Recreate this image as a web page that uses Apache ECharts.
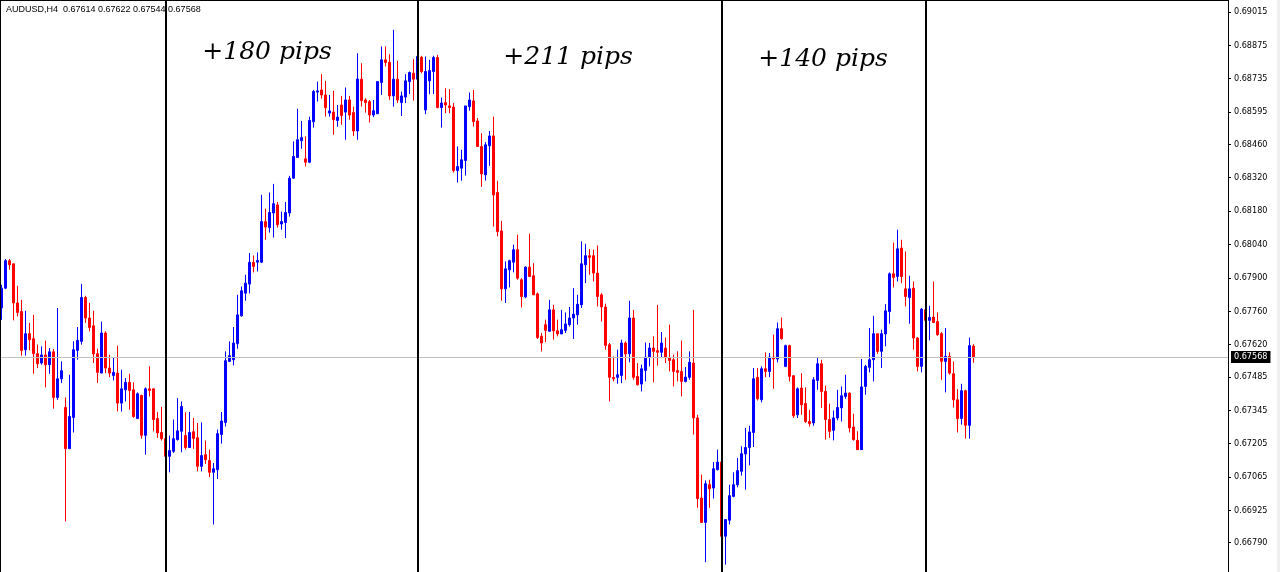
<!DOCTYPE html>
<html>
<head>
<meta charset="utf-8">
<script src="https://cdn.jsdelivr.net/npm/echarts@6/dist/echarts.min.js"></script>
<style>
html, body { margin: 0; padding: 0; background: #ffffff; }
#chart { width: 1280px; height: 572px; }
</style>
</head>
<body>
<div id="chart"></div>
<script>
const symbol = 'AUDUSD,H4';

// Each bar: [open, close, low, high]
const barsBeforeFirstMove = [
  [0.67774, 0.67857, 0.67724, 0.67871], [0.67857, 0.67972, 0.67853, 0.67979], [0.67972, 0.67955, 0.67934, 0.67979],
  [0.67959, 0.67795, 0.67722, 0.67959], [0.67795, 0.67755, 0.67738, 0.67867], [0.67759, 0.67596, 0.67574, 0.67808],
  [0.67599, 0.67666, 0.67574, 0.67762], [0.67666, 0.67641, 0.67596, 0.67711], [0.67645, 0.67582, 0.67498, 0.67745],
  [0.67582, 0.67540, 0.67522, 0.67620], [0.67543, 0.67577, 0.67536, 0.67613], [0.67577, 0.67536, 0.67441, 0.67637],
  [0.67536, 0.67590, 0.67498, 0.67606], [0.67590, 0.67399, 0.67352, 0.67602], [0.67399, 0.67477, 0.67389, 0.67774],
  [0.67477, 0.67511, 0.67459, 0.67550], [0.67357, 0.67184, 0.66879, 0.67399], [0.67184, 0.67319, 0.67184, 0.67494],
  [0.67315, 0.67599, 0.67252, 0.67634], [0.67596, 0.67638, 0.67557, 0.67694], [0.67634, 0.67818, 0.67620, 0.67875],
  [0.67818, 0.67732, 0.67711, 0.67825], [0.67732, 0.67692, 0.67676, 0.67795], [0.67699, 0.67581, 0.67543, 0.67762],
  [0.67582, 0.67504, 0.67459, 0.67603], [0.67501, 0.67669, 0.67501, 0.67717], [0.67669, 0.67522, 0.67501, 0.67676],
  [0.67522, 0.67501, 0.67484, 0.67578], [0.67491, 0.67504, 0.67470, 0.67567], [0.67501, 0.67375, 0.67340, 0.67616],
  [0.67375, 0.67435, 0.67340, 0.67515], [0.67431, 0.67462, 0.67382, 0.67480], [0.67462, 0.67428, 0.67347, 0.67498],
  [0.67431, 0.67319, 0.67313, 0.67462], [0.67310, 0.67414, 0.67310, 0.67420], [0.67407, 0.67240, 0.67226, 0.67410],
  [0.67240, 0.67435, 0.67159, 0.67441], [0.67435, 0.67428, 0.67403, 0.67529], [0.67435, 0.67306, 0.67257, 0.67435],
  [0.67310, 0.67250, 0.67229, 0.67338], [0.67252, 0.67226, 0.67218, 0.67359]
];

const firstMoveBars = [
  [0.67226, 0.67152, 0.67145, 0.67236], [0.67152, 0.67176, 0.67085, 0.67239], [0.67173, 0.67226, 0.67166, 0.67306],
  [0.67222, 0.67259, 0.67218, 0.67396], [0.67257, 0.67361, 0.67169, 0.67382], [0.67239, 0.67189, 0.67180, 0.67336],
  [0.67189, 0.67252, 0.67189, 0.67338], [0.67255, 0.67227, 0.67183, 0.67313], [0.67230, 0.67110, 0.67089, 0.67292],
  [0.67110, 0.67155, 0.67089, 0.67294], [0.67159, 0.67138, 0.67120, 0.67218], [0.67134, 0.67085, 0.67065, 0.67180],
  [0.67085, 0.67100, 0.66866, 0.67124], [0.67096, 0.67247, 0.67057, 0.67264], [0.67243, 0.67300, 0.67205, 0.67338],
  [0.67294, 0.67553, 0.67277, 0.67592], [0.67550, 0.67574, 0.67550, 0.67634], [0.67557, 0.67627, 0.67533, 0.67694],
  [0.67624, 0.67745, 0.67603, 0.67829], [0.67741, 0.67846, 0.67738, 0.67864], [0.67836, 0.67878, 0.67804, 0.67913],
  [0.67874, 0.67965, 0.67835, 0.68004], [0.67965, 0.67948, 0.67923, 0.67994], [0.67966, 0.67973, 0.67927, 0.68007],
  [0.67966, 0.68136, 0.67962, 0.68248], [0.68136, 0.68113, 0.68060, 0.68190], [0.68111, 0.68174, 0.68090, 0.68258],
  [0.68172, 0.68211, 0.68069, 0.68294], [0.68206, 0.68123, 0.68111, 0.68218], [0.68126, 0.68136, 0.68102, 0.68178],
  [0.68132, 0.68174, 0.68067, 0.68218], [0.68172, 0.68318, 0.68157, 0.68328], [0.68318, 0.68409, 0.68315, 0.68472],
  [0.68405, 0.68479, 0.68405, 0.68609], [0.68475, 0.68488, 0.68441, 0.68558], [0.68399, 0.68385, 0.68367, 0.68493],
  [0.68385, 0.68560, 0.68381, 0.68576], [0.68555, 0.68681, 0.68530, 0.68688], [0.68679, 0.68684, 0.68639, 0.68723],
  [0.68688, 0.68667, 0.68651, 0.68754], [0.68667, 0.68614, 0.68576, 0.68726], [0.68591, 0.68600, 0.68576, 0.68667],
  [0.68595, 0.68563, 0.68500, 0.68684], [0.68560, 0.68574, 0.68534, 0.68625], [0.68625, 0.68581, 0.68542, 0.68663],
  [0.68595, 0.68646, 0.68479, 0.68698], [0.68646, 0.68583, 0.68563, 0.68663], [0.68593, 0.68516, 0.68495, 0.68618],
  [0.68516, 0.68734, 0.68479, 0.68842], [0.68733, 0.68643, 0.68618, 0.68800], [0.68646, 0.68635, 0.68593, 0.68653],
  [0.68639, 0.68583, 0.68551, 0.68646], [0.68583, 0.68601, 0.68574, 0.68646], [0.68588, 0.68723, 0.68588, 0.68723],
  [0.68719, 0.68814, 0.68667, 0.68870], [0.68814, 0.68803, 0.68786, 0.68870], [0.68804, 0.68663, 0.68646, 0.68838],
  [0.68663, 0.68733, 0.68618, 0.68940], [0.68733, 0.68646, 0.68633, 0.68810], [0.68635, 0.68663, 0.68579, 0.68681],
  [0.68658, 0.68726, 0.68633, 0.68754], [0.68723, 0.68761, 0.68671, 0.68765], [0.68758, 0.68733, 0.68643, 0.68817]
];

const secondMoveBars = [
  [0.68733, 0.68828, 0.68730, 0.68856], [0.68825, 0.68765, 0.68758, 0.68831], [0.68604, 0.68765, 0.68586, 0.68828],
  [0.68726, 0.68769, 0.68670, 0.68814], [0.68765, 0.68824, 0.68671, 0.68831], [0.68824, 0.68614, 0.68611, 0.68835],
  [0.68614, 0.68633, 0.68530, 0.68656], [0.68635, 0.68625, 0.68591, 0.68695], [0.68621, 0.68614, 0.68591, 0.68692],
  [0.68616, 0.68350, 0.68342, 0.68633], [0.68350, 0.68367, 0.68300, 0.68451], [0.68360, 0.68395, 0.68307, 0.68437],
  [0.68392, 0.68621, 0.68329, 0.68621], [0.68618, 0.68646, 0.68601, 0.68677], [0.68642, 0.68555, 0.68534, 0.68688],
  [0.68558, 0.68451, 0.68451, 0.68570], [0.68451, 0.68336, 0.68281, 0.68507], [0.68332, 0.68458, 0.68308, 0.68469],
  [0.68454, 0.68495, 0.68370, 0.68516], [0.68495, 0.68248, 0.68115, 0.68576], [0.68258, 0.68094, 0.68074, 0.68307],
  [0.68097, 0.67854, 0.67804, 0.68139], [0.67854, 0.67938, 0.67795, 0.67969], [0.67934, 0.67972, 0.67860, 0.67976],
  [0.67966, 0.68018, 0.67923, 0.68039], [0.68018, 0.67899, 0.67892, 0.68081], [0.67892, 0.67822, 0.67776, 0.67899],
  [0.67820, 0.67945, 0.67815, 0.67948], [0.67945, 0.67906, 0.67906, 0.68085], [0.67909, 0.67829, 0.67829, 0.67962],
  [0.67833, 0.67650, 0.67644, 0.67839], [0.67655, 0.67627, 0.67592, 0.67669], [0.67704, 0.67680, 0.67631, 0.67725],
  [0.67676, 0.67766, 0.67676, 0.67808], [0.67766, 0.67678, 0.67641, 0.67787], [0.67678, 0.67665, 0.67655, 0.67725],
  [0.67665, 0.67683, 0.67665, 0.67766], [0.67680, 0.67707, 0.67669, 0.67755], [0.67704, 0.67732, 0.67696, 0.67778],
  [0.67732, 0.67748, 0.67644, 0.67857], [0.67745, 0.67790, 0.67704, 0.67829], [0.67787, 0.67959, 0.67774, 0.68053],
  [0.67955, 0.67993, 0.67878, 0.68043], [0.67993, 0.67986, 0.67913, 0.68021], [0.67993, 0.67920, 0.67885, 0.68018],
  [0.67920, 0.67822, 0.67780, 0.68036], [0.67829, 0.67778, 0.67717, 0.67836], [0.67778, 0.67617, 0.67599, 0.67792],
  [0.67620, 0.67483, 0.67382, 0.67627], [0.67483, 0.67477, 0.67466, 0.67571], [0.67483, 0.67494, 0.67456, 0.67599],
  [0.67491, 0.67627, 0.67459, 0.67641], [0.67627, 0.67581, 0.67473, 0.67634], [0.67582, 0.67732, 0.67546, 0.67804],
  [0.67732, 0.67483, 0.67473, 0.67766], [0.67487, 0.67452, 0.67449, 0.67543], [0.67455, 0.67519, 0.67424, 0.67536],
  [0.67512, 0.67568, 0.67466, 0.67629], [0.67567, 0.67606, 0.67529, 0.67627], [0.67606, 0.67592, 0.67462, 0.67655],
  [0.67595, 0.67588, 0.67532, 0.67787], [0.67588, 0.67627, 0.67567, 0.67673], [0.67606, 0.67567, 0.67543, 0.67650],
  [0.67567, 0.67554, 0.67508, 0.67704], [0.67557, 0.67508, 0.67445, 0.67578], [0.67511, 0.67504, 0.67466, 0.67592],
  [0.67508, 0.67466, 0.67403, 0.67637], [0.67466, 0.67484, 0.67462, 0.67526], [0.67483, 0.67546, 0.67473, 0.67592],
  [0.67543, 0.67313, 0.67243, 0.67766], [0.67313, 0.66975, 0.66936, 0.67326], [0.66977, 0.66875, 0.66873, 0.67075],
  [0.66875, 0.67037, 0.66708, 0.67051], [0.67033, 0.67016, 0.66936, 0.67054], [0.67019, 0.67100, 0.66975, 0.67128],
  [0.67096, 0.67128, 0.67093, 0.67180]
];

const thirdMoveBars = [
  [0.67128, 0.66817, 0.66810, 0.67131], [0.66817, 0.66887, 0.66698, 0.66889], [0.66884, 0.66987, 0.66866, 0.67033],
  [0.66984, 0.67033, 0.66980, 0.67085], [0.67033, 0.67092, 0.67022, 0.67145], [0.67089, 0.67163, 0.67071, 0.67194],
  [0.67162, 0.67189, 0.67012, 0.67271], [0.67189, 0.67254, 0.67114, 0.67280], [0.67252, 0.67477, 0.67191, 0.67522],
  [0.67483, 0.67393, 0.67386, 0.67522], [0.67389, 0.67519, 0.67378, 0.67529], [0.67519, 0.67508, 0.67484, 0.67588],
  [0.67508, 0.67568, 0.67484, 0.67585], [0.67568, 0.67560, 0.67435, 0.67662], [0.67560, 0.67687, 0.67546, 0.67713],
  [0.67687, 0.67645, 0.67641, 0.67734], [0.67529, 0.67616, 0.67526, 0.67620], [0.67616, 0.67487, 0.67466, 0.67620],
  [0.67490, 0.67322, 0.67313, 0.67490], [0.67326, 0.67435, 0.67313, 0.67441], [0.67438, 0.67368, 0.67326, 0.67501],
  [0.67373, 0.67298, 0.67292, 0.67441], [0.67298, 0.67289, 0.67277, 0.67347], [0.67292, 0.67473, 0.67280, 0.67484],
  [0.67470, 0.67540, 0.67431, 0.67564], [0.67540, 0.67424, 0.67355, 0.67557], [0.67424, 0.67306, 0.67222, 0.67448],
  [0.67306, 0.67257, 0.67229, 0.67373], [0.67261, 0.67313, 0.67219, 0.67344], [0.67313, 0.67357, 0.67303, 0.67431],
  [0.67355, 0.67406, 0.67298, 0.67445], [0.67403, 0.67417, 0.67393, 0.67494], [0.67417, 0.67271, 0.67252, 0.67420],
  [0.67275, 0.67222, 0.67218, 0.67331], [0.67219, 0.67180, 0.67180, 0.67257], [0.67180, 0.67443, 0.67180, 0.67560],
  [0.67445, 0.67529, 0.67410, 0.67536], [0.67525, 0.67557, 0.67504, 0.67690], [0.67557, 0.67666, 0.67466, 0.67741],
  [0.67666, 0.67592, 0.67582, 0.67666], [0.67592, 0.67666, 0.67522, 0.67683], [0.67665, 0.67762, 0.67613, 0.67790],
  [0.67759, 0.67917, 0.67708, 0.67923], [0.67917, 0.67902, 0.67860, 0.68048], [0.67906, 0.68022, 0.67885, 0.68102],
  [0.68025, 0.67906, 0.67878, 0.68060], [0.67854, 0.67822, 0.67780, 0.68011], [0.67818, 0.67854, 0.67708, 0.67909],
  [0.67857, 0.67648, 0.67599, 0.67885], [0.67648, 0.67529, 0.67508, 0.67652], [0.67529, 0.67769, 0.67504, 0.67774]
];

const latestBars = [
  [0.67766, 0.67722, 0.67717, 0.67778], [0.67722, 0.67734, 0.67638, 0.67783], [0.67736, 0.67713, 0.67713, 0.67885],
  [0.67717, 0.67662, 0.67657, 0.67755], [0.67666, 0.67550, 0.67473, 0.67673], [0.67550, 0.67571, 0.67420, 0.67690],
  [0.67571, 0.67501, 0.67494, 0.67588], [0.67498, 0.67389, 0.67357, 0.67550], [0.67389, 0.67310, 0.67252, 0.67434],
  [0.67310, 0.67427, 0.67285, 0.67456], [0.67427, 0.67282, 0.67226, 0.67431], [0.67282, 0.67616, 0.67226, 0.67650],
  [0.67614, 0.67568, 0.67544, 0.67622]
];

const moveLabels = ['+180 pips', '+211 pips', '+140 pips'];

const priceTicks = [
  0.69015, 0.68875, 0.68735, 0.68595, 0.68460, 0.68320, 0.68180, 0.68040, 0.67900,
  0.67760, 0.67620, 0.67485, 0.67345, 0.67205, 0.67065, 0.66925, 0.66790
];

const totalSlots = 307;

// ---- build ----
const segments = [barsBeforeFirstMove, firstMoveBars, secondMoveBars, thirdMoveBars, latestBars];
const bars = segments.flat();
const barData = bars.map((b, i) => [i, b[0], b[1], b[2], b[3]]);
const separators = [];
let acc = 0;
for (let k = 0; k < segments.length - 1; k++) { acc += segments[k].length; separators.push(acc); }
const last = bars[bars.length - 1];
const header = symbol + '  ' + [last[0], last[3], last[2], last[1]].map(v => v.toFixed(5)).join(' ');

const uiFont = '"DejaVu Sans Condensed", "Liberation Sans", sans-serif';
const headerFont = '9px "Liberation Sans", sans-serif';
const handFont = 'italic 25px "DejaVu Serif", serif';

const labelPos = [[267, 52.5], [568, 57.5], [823, 59]];

const chart = echarts.init(document.getElementById('chart'), null, { renderer: 'canvas' });
chart.setOption({
  animation: false,
  backgroundColor: '#ffffff',
  grid: { left: 0, top: 0, width: 1228, height: 572, containLabel: false },
  xAxis: {
    type: 'value', min: -0.375, max: totalSlots - 0.375, show: false,
    splitLine: { show: false }
  },
  yAxis: {
    type: 'value', position: 'right', min: 0.66667, max: 0.69065,
    axisLine: { show: true, onZero: false, lineStyle: { color: '#000000', width: 1 } },
    axisTick: { show: true, length: 3, customValues: priceTicks, lineStyle: { color: '#000000', width: 1 } },
    axisLabel: {
      show: true, customValues: priceTicks, margin: 6, color: '#000000',
      fontFamily: uiFont, fontSize: 9, formatter: v => Number(v).toFixed(5)
    },
    splitLine: { show: false }
  },
  series: [{
    type: 'candlestick',
    data: barData,
    barWidth: 2,
    itemStyle: {
      color: '#0000ff', color0: '#ff0000',
      borderColor: '#0000ff', borderColor0: '#ff0000', borderWidth: 1
    },
    emphasis: { disabled: true },
    markLine: {
      silent: true, symbol: ['none', 'none'], animation: false, precision: 5,
      data: [
        {
          yAxis: last[1],
          lineStyle: { color: '#c0c0c0', width: 1, type: 'solid' },
          label: {
            show: true, position: 'end', distance: 3,
            formatter: () => last[1].toFixed(5),
            backgroundColor: '#000000', color: '#ffffff',
            padding: [2, 3, 1, 3], fontFamily: uiFont, fontSize: 9
          }
        }
      ].concat(separators.map(i => ({
        xAxis: i,
        lineStyle: { color: '#000000', width: 2, type: 'solid' },
        label: { show: false }
      })))
    }
  }],
  graphic: [
    { type: 'line', shape: { x1: 0.5, y1: 0, x2: 0.5, y2: 572 }, style: { stroke: '#000000', lineWidth: 1 }, z: 10 },
    { type: 'line', shape: { x1: 0, y1: 0.5, x2: 1228, y2: 0.5 }, style: { stroke: '#000000', lineWidth: 1 }, z: 10 },
    { type: 'rect', shape: { x: 1277, y: 0, width: 3, height: 572 }, style: { fill: '#f0f0f0' }, z: 10 },
    { type: 'text', x: 6, y: 10, style: { text: header, font: headerFont, fill: '#000000', verticalAlign: 'middle' }, z: 10 }
  ].concat(moveLabels.map((t, k) => ({
    type: 'text', x: labelPos[k][0], y: labelPos[k][1], z: 10,
    style: { text: t, font: handFont, fill: '#000000', align: 'center', verticalAlign: 'middle' }
  })))
});
</script>
</body>
</html>
